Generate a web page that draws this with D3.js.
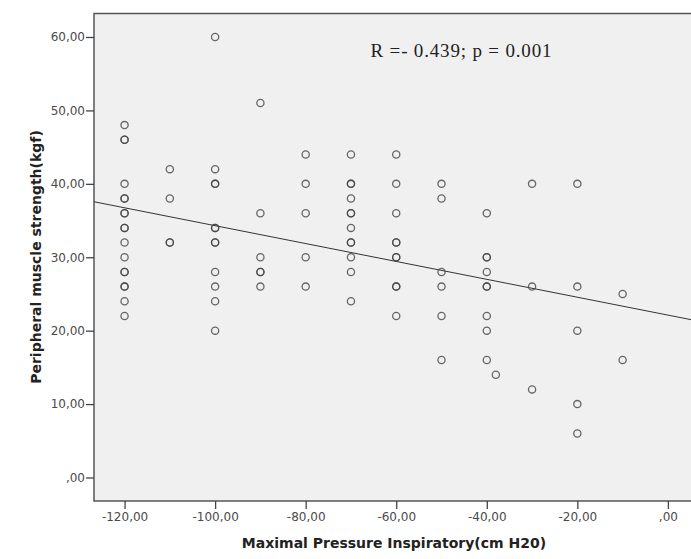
<!DOCTYPE html>
<html>
<head>
<meta charset="utf-8">
<script src="https://cdn.jsdelivr.net/npm/d3@7"></script>
<style>
body { margin: 0; background: #fff; }
.tick text { font-family: "DejaVu Sans", sans-serif; font-size: 12px; fill: #4a4a4a; }
.tick line { stroke: #444; stroke-width: 1.3; }
.label { font-family: "DejaVu Sans", sans-serif; font-weight: bold; font-size: 14px; fill: #222; }
</style>
</head>
<body>
<svg class="chart"></svg>
<script>
// Maximal inspiratory pressure (cm H2O) and peripheral muscle strength (kgf), one entry per subject
var pressure = [
	-120,-120,-120,-120,-120,-120,-120,-120,-120,-120,-120,-120,-120,-120,-120,-120,-120,-120,
	-110,-110,-110,-110,
	-100,-100,-100,-100,-100,-100,-100,-100,-100,-100,-100,-100,
	-90,-90,-90,-90,-90,-90,
	-80,-80,-80,-80,-80,
	-70,-70,-70,-70,-70,-70,-70,-70,-70,-70,-70,-70,
	-60,-60,-60,-60,-60,-60,-60,-60,-60,-60,
	-50,-50,-50,-50,-50,-50,
	-40,-40,-40,-40,-40,-40,-40,-40,-40,
	-38,
	-30,-30,-30,
	-20,-20,-20,-20,-20,
	-10,-10
];
var strength = [
	48,46,46,40,38,38,36,36,34,34,32,30,28,28,26,26,24,22,
	42,38,32,32,
	60,42,40,40,34,34,32,32,28,26,24,20,
	51,36,30,28,28,26,
	44,40,36,30,26,
	44,40,40,38,36,36,34,32,32,30,28,24,
	44,40,36,32,32,30,30,26,26,22,
	40,38,28,26,22,16,
	36,30,30,28,26,26,22,20,16,
	14,
	40,26,12,
	40,26,20,10,6,
	25,16
];
var xTicks = [-120, -100, -80, -60, -40, -20, 0];
var yTicks = [0, 10, 20, 30, 40, 50, 60];
// fit line
var fitIntercept = 22.12,
	fitSlope = -0.1218;
var note = "R =- 0.439; p = 0.001";

var W = 691, H = 559;
var margin = {top: 13.5, left: 94, bottom: 58, right: 0};
var width = W - margin.left - margin.right,
	height = H - margin.top - margin.bottom;

var x = d3.scaleLinear().domain([-126.75, 5.1]).range([0, width]);
var y = d3.scaleLinear().domain([-3.2, 63.2]).range([height, 0]);

function fmt(v) { return v === 0 ? ",00" : v + ",00"; }

var svg = d3.select(".chart").attr("width", W).attr("height", H);
var g = svg.append("g").attr("transform", "translate(" + margin.left + "," + margin.top + ")");

g.append("rect")
	.attr("width", width + 10)
	.attr("height", height)
	.attr("fill", "#f0f0f0")
	.attr("stroke", "#555")
	.attr("stroke-width", 1.5);

var xAxis = g.append("g")
	.attr("transform", "translate(0," + height + ")")
	.call(d3.axisBottom(x).tickValues(xTicks).tickFormat(fmt).tickSize(8).tickPadding(3));
xAxis.select(".domain").remove();

var yAxis = g.append("g")
	.call(d3.axisLeft(y).tickValues(yTicks).tickFormat(fmt).tickSize(8).tickPadding(1));
yAxis.select(".domain").remove();

g.append("line")
	.attr("x1", x(x.domain()[0]))
	.attr("y1", y(fitIntercept + fitSlope * x.domain()[0]))
	.attr("x2", x(x.domain()[1]))
	.attr("y2", y(fitIntercept + fitSlope * x.domain()[1]))
	.attr("stroke", "#333")
	.attr("stroke-width", 1);

g.selectAll("circle")
	.data(pressure)
.enter().append("circle")
	.attr("cx", function(d) { return x(d); })
	.attr("cy", function(d, i) { return y(strength[i]); })
	.attr("r", 3.6)
	.attr("fill", "none")
	.attr("stroke", "#444")
	.attr("stroke-opacity", 0.8)
	.attr("stroke-width", 1.3);

g.append("text")
	.attr("x", 276.5)
	.attr("y", 43.5)
	.attr("textLength", 181)
	.attr("lengthAdjust", "spacing")
	.style("font-family", "'Liberation Serif', serif")
	.style("font-size", "19px")
	.style("fill", "#222")
	.text(note);

svg.append("text")
	.attr("class", "label")
	.attr("x", 394)
	.attr("y", 548)
	.attr("text-anchor", "middle")
	.text("Maximal Pressure Inspiratory(cm H20)");

svg.append("text")
	.attr("class", "label")
	.attr("transform", "translate(41,257) rotate(-90)")
	.attr("text-anchor", "middle")
	.text("Peripheral muscle strength(kgf)");
</script>
</body>
</html>
